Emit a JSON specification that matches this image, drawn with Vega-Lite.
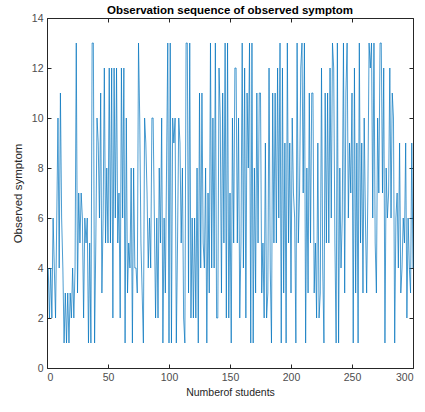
{
  "$schema": "https://vega.github.io/schema/vega-lite/v6.json",
  "width": 366,
  "height": 350,
  "autosize": "none",
  "padding": {"left": 47, "top": 18, "right": 12, "bottom": 44},
  "background": "white",
  "title": {"text": "Observation sequence of observed symptom", "font": "Liberation Sans", "fontSize": 11.5, "fontWeight": "bold", "color": "#000000", "offset": -3},
  "config": {"view": {"stroke": null}},
  "data": {"values": [
    {"n":1,"v":4},{"n":2,"v":2},{"n":3,"v":4},{"n":4,"v":2},{"n":5,"v":6},{"n":6,"v":4},{"n":7,"v":2},{"n":8,"v":6},{"n":9,"v":10},{"n":10,"v":4},
    {"n":11,"v":11},{"n":12,"v":6},{"n":13,"v":4},{"n":14,"v":1},{"n":15,"v":3},{"n":16,"v":1},{"n":17,"v":3},{"n":18,"v":1},{"n":19,"v":3},{"n":20,"v":2},
    {"n":21,"v":4},{"n":22,"v":2},{"n":23,"v":4},{"n":24,"v":13},{"n":25,"v":3},{"n":26,"v":7},{"n":27,"v":5},{"n":28,"v":7},{"n":29,"v":6},{"n":30,"v":2},
    {"n":31,"v":6},{"n":32,"v":5},{"n":33,"v":6},{"n":34,"v":1},{"n":35,"v":5},{"n":36,"v":1},{"n":37,"v":13},{"n":38,"v":13},{"n":39,"v":1},{"n":40,"v":5},
    {"n":41,"v":10},{"n":42,"v":9},{"n":43,"v":6},{"n":44,"v":11},{"n":45,"v":3},{"n":46,"v":6},{"n":47,"v":12},{"n":48,"v":5},{"n":49,"v":8},{"n":50,"v":5},
    {"n":51,"v":12},{"n":52,"v":5},{"n":53,"v":12},{"n":54,"v":2},{"n":55,"v":12},{"n":56,"v":6},{"n":57,"v":12},{"n":58,"v":5},{"n":59,"v":7},{"n":60,"v":2},
    {"n":61,"v":12},{"n":62,"v":6},{"n":63,"v":12},{"n":64,"v":1},{"n":65,"v":10},{"n":66,"v":3},{"n":67,"v":5},{"n":68,"v":4},{"n":69,"v":8},{"n":70,"v":1},
    {"n":71,"v":8},{"n":72,"v":4},{"n":73,"v":4},{"n":74,"v":3},{"n":75,"v":13},{"n":76,"v":10},{"n":77,"v":5},{"n":78,"v":3},{"n":79,"v":1},{"n":80,"v":10},
    {"n":81,"v":9},{"n":82,"v":7},{"n":83,"v":4},{"n":84,"v":6},{"n":85,"v":4},{"n":86,"v":10},{"n":87,"v":10},{"n":88,"v":6},{"n":89,"v":2},{"n":90,"v":6},
    {"n":91,"v":2},{"n":92,"v":8},{"n":93,"v":5},{"n":94,"v":10},{"n":95,"v":1},{"n":96,"v":6},{"n":97,"v":3},{"n":98,"v":8},{"n":99,"v":13},{"n":100,"v":1},
    {"n":101,"v":13},{"n":102,"v":1},{"n":103,"v":10},{"n":104,"v":9},{"n":105,"v":10},{"n":106,"v":1},{"n":107,"v":5},{"n":108,"v":10},{"n":109,"v":9},{"n":110,"v":5},
    {"n":111,"v":8},{"n":112,"v":2},{"n":113,"v":1},{"n":114,"v":13},{"n":115,"v":13},{"n":116,"v":3},{"n":117,"v":13},{"n":118,"v":2},{"n":119,"v":6},{"n":120,"v":2},
    {"n":121,"v":6},{"n":122,"v":2},{"n":123,"v":8},{"n":124,"v":1},{"n":125,"v":11},{"n":126,"v":4},{"n":127,"v":11},{"n":128,"v":5},{"n":129,"v":4},{"n":130,"v":8},
    {"n":131,"v":1},{"n":132,"v":7},{"n":133,"v":3},{"n":134,"v":13},{"n":135,"v":4},{"n":136,"v":10},{"n":137,"v":4},{"n":138,"v":13},{"n":139,"v":2},{"n":140,"v":2},
    {"n":141,"v":12},{"n":142,"v":10},{"n":143,"v":3},{"n":144,"v":11},{"n":145,"v":5},{"n":146,"v":13},{"n":147,"v":2},{"n":148,"v":13},{"n":149,"v":2},{"n":150,"v":7},
    {"n":151,"v":1},{"n":152,"v":10},{"n":153,"v":5},{"n":154,"v":12},{"n":155,"v":12},{"n":156,"v":5},{"n":157,"v":10},{"n":158,"v":2},{"n":159,"v":5},{"n":160,"v":13},
    {"n":161,"v":4},{"n":162,"v":12},{"n":163,"v":2},{"n":164,"v":11},{"n":165,"v":8},{"n":166,"v":13},{"n":167,"v":1},{"n":168,"v":13},{"n":169,"v":1},{"n":170,"v":8},
    {"n":171,"v":3},{"n":172,"v":11},{"n":173,"v":5},{"n":174,"v":11},{"n":175,"v":11},{"n":176,"v":3},{"n":177,"v":5},{"n":178,"v":2},{"n":179,"v":9},{"n":180,"v":2},
    {"n":181,"v":3},{"n":182,"v":12},{"n":183,"v":4},{"n":184,"v":1},{"n":185,"v":11},{"n":186,"v":5},{"n":187,"v":11},{"n":188,"v":5},{"n":189,"v":12},{"n":190,"v":6},
    {"n":191,"v":13},{"n":192,"v":1},{"n":193,"v":12},{"n":194,"v":3},{"n":195,"v":9},{"n":196,"v":1},{"n":197,"v":13},{"n":198,"v":5},{"n":199,"v":9},{"n":200,"v":3},
    {"n":201,"v":10},{"n":202,"v":7},{"n":203,"v":6},{"n":204,"v":1},{"n":205,"v":13},{"n":206,"v":5},{"n":207,"v":7},{"n":208,"v":12},{"n":209,"v":13},{"n":210,"v":7},
    {"n":211,"v":13},{"n":212,"v":1},{"n":213,"v":8},{"n":214,"v":3},{"n":215,"v":11},{"n":216,"v":5},{"n":217,"v":11},{"n":218,"v":11},{"n":219,"v":3},{"n":220,"v":5},
    {"n":221,"v":2},{"n":222,"v":9},{"n":223,"v":2},{"n":224,"v":3},{"n":225,"v":12},{"n":226,"v":4},{"n":227,"v":1},{"n":228,"v":11},{"n":229,"v":5},{"n":230,"v":11},
    {"n":231,"v":5},{"n":232,"v":12},{"n":233,"v":6},{"n":234,"v":13},{"n":235,"v":12},{"n":236,"v":5},{"n":237,"v":1},{"n":238,"v":13},{"n":239,"v":1},{"n":240,"v":8},
    {"n":241,"v":4},{"n":242,"v":6},{"n":243,"v":13},{"n":244,"v":3},{"n":245,"v":11},{"n":246,"v":13},{"n":247,"v":6},{"n":248,"v":9},{"n":249,"v":7},{"n":250,"v":11},
    {"n":251,"v":1},{"n":252,"v":12},{"n":253,"v":3},{"n":254,"v":9},{"n":255,"v":1},{"n":256,"v":13},{"n":257,"v":5},{"n":258,"v":9},{"n":259,"v":3},{"n":260,"v":10},
    {"n":261,"v":6},{"n":262,"v":3},{"n":263,"v":7},{"n":264,"v":13},{"n":265,"v":12},{"n":266,"v":13},{"n":267,"v":6},{"n":268,"v":13},{"n":269,"v":5},{"n":270,"v":3},
    {"n":271,"v":10},{"n":272,"v":7},{"n":273,"v":13},{"n":274,"v":13},{"n":275,"v":7},{"n":276,"v":12},{"n":277,"v":1},{"n":278,"v":8},{"n":279,"v":6},{"n":280,"v":7},
    {"n":281,"v":12},{"n":282,"v":6},{"n":283,"v":11},{"n":284,"v":10},{"n":285,"v":1},{"n":286,"v":6},{"n":287,"v":7},{"n":288,"v":4},{"n":289,"v":9},{"n":290,"v":3},
    {"n":291,"v":4},{"n":292,"v":6},{"n":293,"v":5},{"n":294,"v":9},{"n":295,"v":2},{"n":296,"v":6},{"n":297,"v":4},{"n":298,"v":3},{"n":299,"v":9},{"n":300,"v":4}
  ]},
  "layer": [
    {
      "mark": {"type": "line", "color": "#0072BD", "strokeWidth": 0.7},
      "encoding": {
        "x": {"field": "n", "type": "quantitative", "scale": {"domain": [0, 300], "nice": false},
          "axis": {"orient": "bottom", "title": "Numberof students", "values": [0,50,100,150,200,250,300], "grid": false, "tickSize": -4, "domainColor": "#262626", "tickColor": "#262626", "labelColor": "#4d4d4d", "labelFont": "Liberation Sans", "labelFontSize": 10.5, "labelPadding": 8, "titleFont": "Liberation Sans", "titleFontSize": 10.5, "titleFontWeight": "normal", "titleColor": "#262626", "titlePadding": 5, "domainWidth": 1}},
        "y": {"field": "v", "type": "quantitative", "scale": {"domain": [0, 14], "nice": false},
          "axis": {"orient": "left", "title": "Observed symptom", "values": [0,2,4,6,8,10,12,14], "grid": false, "tickSize": -4, "domainColor": "#262626", "tickColor": "#262626", "labelColor": "#4d4d4d", "labelFont": "Liberation Sans", "labelFontSize": 10.5, "labelPadding": 8, "titleFont": "Liberation Sans", "titleFontSize": 11.5, "titleFontWeight": "normal", "titleColor": "#262626", "titlePadding": 8, "domainWidth": 1}}
      }
    },
    {
      "mark": {"type": "line", "opacity": 0},
      "encoding": {
        "x": {"field": "n", "type": "quantitative", "scale": {"domain": [0, 300], "nice": false},
          "axis": {"orient": "top", "title": null, "labels": false, "values": [0,50,100,150,200,250,300], "grid": false, "tickSize": -4, "minExtent": 0, "maxExtent": 0, "domainColor": "#262626", "tickColor": "#262626", "domainWidth": 1}},
        "y": {"field": "v", "type": "quantitative", "scale": {"domain": [0, 14], "nice": false},
          "axis": {"orient": "right", "title": null, "labels": false, "values": [0,2,4,6,8,10,12,14], "grid": false, "tickSize": -4, "minExtent": 0, "maxExtent": 0, "domainColor": "#262626", "tickColor": "#262626", "domainWidth": 1}}
      }
    }
  ],
  "resolve": {"axis": {"x": "independent", "y": "independent"}}
}
